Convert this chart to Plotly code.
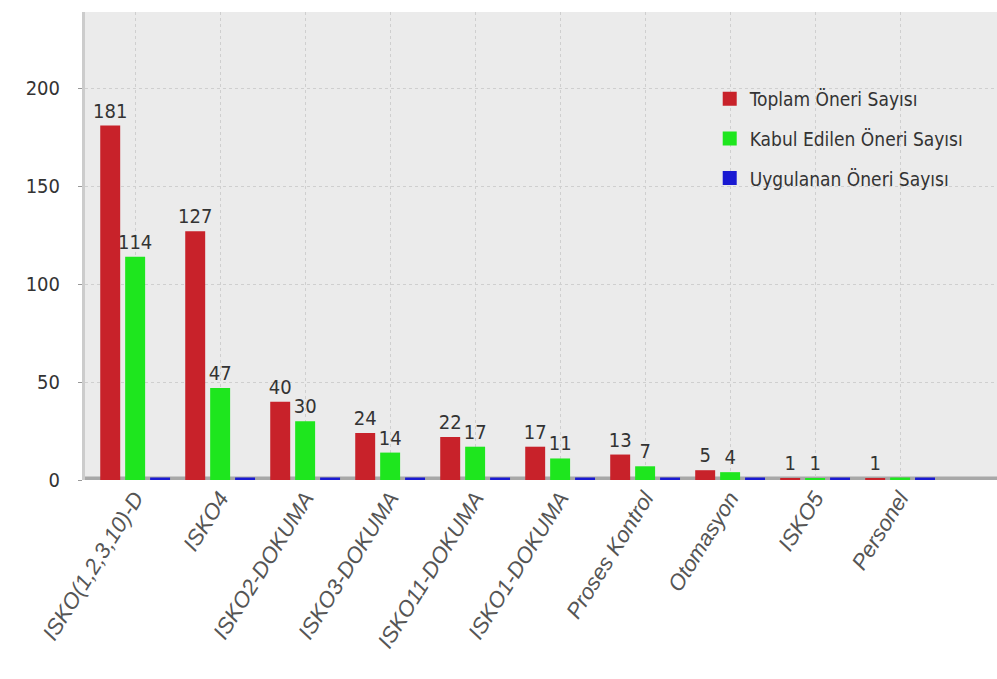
import plotly.graph_objects as go

categories = ["ISKO(1,2,3,10)-D", "ISKO4", "ISKO2-DOKUMA", "ISKO3-DOKUMA", "ISKO11-DOKUMA",
              "ISKO1-DOKUMA", "Proses Kontrol", "Otomasyon", "ISKO5", "Personel"]
toplam = [181, 127, 40, 24, 22, 17, 13, 5, 1, 1]
kabul = [114, 47, 30, 14, 17, 11, 7, 4, 1, 0]
uygulanan = [0, 0, 0, 0, 0, 0, 0, 0, 0, 0]
series_names = ["Toplam Öneri Sayısı", "Kabul Edilen Öneri Sayısı", "Uygulanan Öneri Sayısı"]
y_ticks = [0, 50, 100, 150, 200]

colors = ["#c8222a", "#1ee61e", "#1a1ad2"]
NARROW = "DejaVu Sans Condensed, Liberation Sans Narrow, Arial Narrow, sans-serif"

fig = go.Figure()
for i, (name, vals, col) in enumerate(zip(series_names, [toplam, kabul, uygulanan], colors)):
    fig.add_trace(go.Bar(
        name=name, x=categories, y=vals, legendgroup=f"g{i}",
        marker=dict(color=col, line=dict(color=col, width=[5 if v == 0 else 0 for v in vals])),
        text=[str(v) if v > 0 else "" for v in vals],
        textposition="outside",
        constraintext="none",
        textfont=dict(family=NARROW, size=20, color="#333333"),
        cliponaxis=False,
    ))

fig.add_shape(type="line", xref="paper", yref="y", x0=0, x1=1, y0=0, y1=0,
              line=dict(color="#a8a8a8", width=7), layer="below")

fig.update_layout(
    width=997, height=679,
    margin=dict(l=85, r=0, t=12, b=199),
    paper_bgcolor="white",
    plot_bgcolor="#ebebeb",
    barmode="group",
    bargap=0.12,
    bargroupgap=0.2,
    showlegend=True,
    legend=dict(x=0.685, y=0.855, xanchor="left", yanchor="top",
                bgcolor="rgba(0,0,0,0)", tracegroupgap=12,
                font=dict(family=NARROW, size=19, color="#333333"),
                itemsizing="constant"),
    xaxis=dict(
        type="category", range=[-0.59, 10.14],
        tickangle=-58,
        tickfont=dict(family="Liberation Sans, Arial, sans-serif", size=22, color="#555555",
                      style="italic"),
        showgrid=True, gridcolor="#cfcfcf", griddash="dot", gridwidth=1,
        showline=False, ticks="", zeroline=False,
    ),
    yaxis=dict(
        range=[0, 239], tickvals=y_ticks,
        tickfont=dict(family=NARROW, size=20, color="#333333"),
        showgrid=True, gridcolor="#cfcfcf", griddash="dot", gridwidth=1,
        showline=True, linecolor="#cccccc", linewidth=3,
        ticks="outside", ticklen=4, tickcolor="#999999",
        ticklabelstandoff=14,
        zeroline=False,
    ),
)

fig.write_html("out.html")
